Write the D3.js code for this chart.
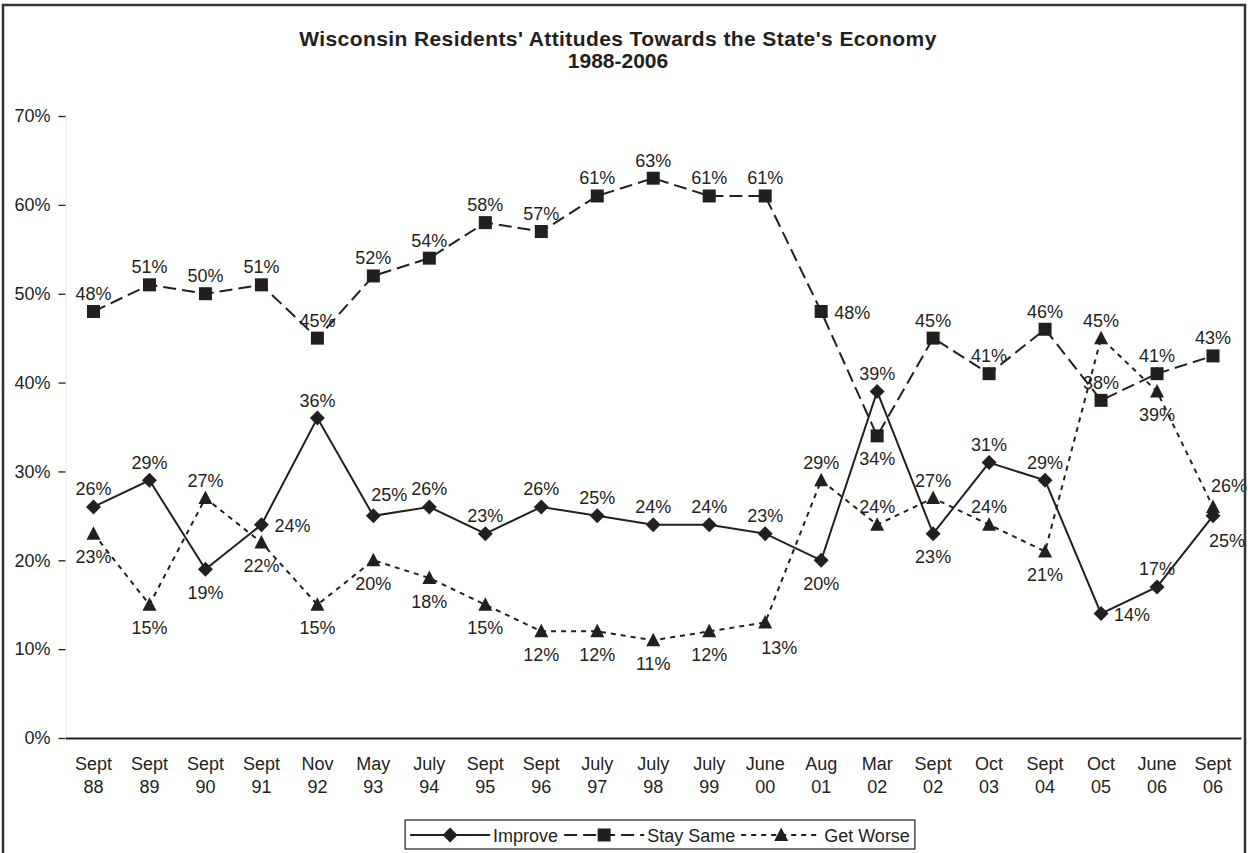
<!DOCTYPE html>
<html>
<head>
<meta charset="utf-8">
<script src="https://cdn.jsdelivr.net/npm/d3@7"></script>
<style>
  body { margin: 0; background: #fff; }
  text { font-family: "Liberation Sans", Arial, sans-serif; fill: #231f20; }
</style>
</head>
<body>
<div id="chart"></div>
<script>
// categories along the bottom
var categories = ["Sept 88", "Sept 89", "Sept 90", "Sept 91", "Nov 92", "May 93", "July 94",
  "Sept 95", "Sept 96", "July 97", "July 98", "July 99", "June 00", "Aug 01", "Mar 02",
  "Sept 02", "Oct 03", "Sept 04", "Oct 05", "June 06", "Sept 06"];

// percent values
var improve   = [26, 29, 19, 24, 36, 25, 26, 23, 26, 25, 24, 24, 23, 20, 39, 23, 31, 29, 14, 17, 25];
var staySame  = [48, 51, 50, 51, 45, 52, 54, 58, 57, 61, 63, 61, 61, 48, 34, 45, 41, 46, 38, 41, 43];
var getWorse  = [23, 15, 27, 22, 15, 20, 18, 15, 12, 12, 11, 12, 13, 29, 24, 27, 24, 21, 45, 39, 26];

// where each value label sits relative to its point (a=above, b=below, r=right, ar/br shifted right)
var improveLbl = ["a","a","b","r","a","ar","a","a","a","a","a","a","a","b","a","b","a","a","r","a","br"];
var stayLbl    = ["a","a","a","a","a","a","a","a","a","a","a","a","a","r","b","a","a","a","a","a","a"];
var worseLbl   = ["b","b","a","b","b","b","b","b","b","b","b","b","br","a","a","a","a","b","a","b","ar"];

var yTicks = [0, 10, 20, 30, 40, 50, 60, 70];

var title1 = "Wisconsin Residents' Attitudes Towards the State's Economy";
var title2 = "1988-2006";

var ink = "#231f20";
var W = 1248, H = 853;

var svg = d3.select("#chart").append("svg")
  .attr("width", W)
  .attr("height", H);

// plot area
var plotLeft = 65.5, plotRight = 1241, plotTop = 116, plotBottom = 738;

var x = d3.scaleBand()
  .domain(categories)
  .range([plotLeft, plotRight])
  .paddingInner(0)
  .paddingOuter(0);
var xc = function(c) { return x(c) + x.bandwidth() / 2; };

var y = d3.scaleLinear()
  .domain([0, 70])
  .range([plotBottom, plotTop]);

// title
svg.append("text")
  .attr("x", 618).attr("y", 46)
  .attr("text-anchor", "middle")
  .style("font-size", "21px").style("font-weight", "bold")
  .style("letter-spacing", "0.4px")
  .text(title1);
svg.append("text")
  .attr("x", 618).attr("y", 68)
  .attr("text-anchor", "middle")
  .style("font-size", "21px").style("font-weight", "bold")
  .text(title2);

// y axis
var yAxis = d3.axisLeft(y)
  .tickValues(yTicks)
  .tickSize(7)
  .tickPadding(8)
  .tickFormat(function(d) { return d + "%"; });

var yAxisG = svg.append("g")
  .attr("transform", "translate(" + plotLeft + ",0)")
  .call(yAxis);
yAxisG.select(".domain").attr("stroke", "#ececec");
yAxisG.selectAll(".tick line").attr("stroke", ink).attr("stroke-width", 1.3);
yAxisG.selectAll(".tick text")
  .style("font-size", "18px")
  .style("font-family", "Liberation Sans, Arial, sans-serif")
  .attr("fill", ink);

// x axis on the 0% line
var xAxis = d3.axisBottom(x).tickSize(0).tickSizeOuter(0).tickPadding(0);
var xAxisG = svg.append("g")
  .attr("transform", "translate(0," + plotBottom + ")")
  .call(xAxis);
xAxisG.select(".domain").attr("stroke", ink).attr("stroke-width", 1.8);
xAxisG.selectAll(".tick text").each(function(d) {
  var parts = d.split(" ");
  var t = d3.select(this).text(null)
    .style("font-size", "18px")
    .style("font-family", "Liberation Sans, Arial, sans-serif")
    .attr("fill", ink)
    .attr("y", 0).attr("dy", null);
  t.append("tspan").attr("x", 0).attr("y", 32).text(parts[0]);
  t.append("tspan").attr("x", 0).attr("y", 55).text(parts[1]);
});

// markers
function diamond(g) {
  g.append("path").attr("d", "M0,-7.5L7.5,0L0,7.5L-7.5,0Z").attr("fill", ink);
}
function square(g) {
  g.append("rect").attr("x", -6.5).attr("y", -6.5).attr("width", 13).attr("height", 13).attr("fill", ink);
}
function triangle(g) {
  g.append("path").attr("d", "M0,-7.5L7,6L-7,6Z").attr("fill", ink);
}

var series = [
  { name: "Improve",    values: improve,  labels: improveLbl, dash: null,  marker: diamond },
  { name: "Stay Same",  values: staySame, labels: stayLbl,    dash: "13,6", marker: square },
  { name: "Get Worse",  values: getWorse, labels: worseLbl,   dash: "5,5",  marker: triangle }
];

var line = d3.line()
  .x(function(d, i) { return xc(categories[i]); })
  .y(function(d) { return y(d); });

// lines first, then markers, then labels
series.forEach(function(s) {
  svg.append("path")
    .datum(s.values)
    .attr("fill", "none")
    .attr("stroke", ink)
    .attr("stroke-width", 2)
    .attr("stroke-dasharray", s.dash)
    .attr("d", line);
});

series.forEach(function(s) {
  s.values.forEach(function(v, i) {
    var g = svg.append("g")
      .attr("transform", "translate(" + xc(categories[i]) + "," + y(v) + ")");
    s.marker(g);
  });
});

var offsets = {
  a:  { dx: 0,  dy: -18, anchor: "middle" },
  b:  { dx: 0,  dy: 23,  anchor: "middle" },
  r:  { dx: 13, dy: 1,   anchor: "start" },
  ar: { dx: 16, dy: -21, anchor: "middle" },
  br: { dx: 14, dy: 25,  anchor: "middle" }
};

series.forEach(function(s) {
  s.values.forEach(function(v, i) {
    var o = offsets[s.labels[i]];
    svg.append("text")
      .attr("x", xc(categories[i]) + o.dx)
      .attr("y", y(v) + o.dy + 6.5)
      .attr("text-anchor", o.anchor)
      .style("font-size", "18px")
      .text(v + "%");
  });
});

// legend
var legendBox = svg.append("rect")
  .attr("fill", "#fff")
  .attr("stroke", ink).attr("stroke-width", 1.2);
var legend = svg.append("g");
var sampleW = 80, cx = 0;
series.forEach(function(s) {
  var g = legend.append("g").attr("transform", "translate(" + cx + ",0)");
  g.append("line")
    .attr("x1", 0).attr("x2", sampleW)
    .attr("y1", 0).attr("y2", 0)
    .attr("stroke", ink).attr("stroke-width", 2)
    .attr("stroke-dasharray", s.dash);
  var m = g.append("g").attr("transform", "translate(" + sampleW / 2 + ",0)");
  s.marker(m);
  var t = g.append("text")
    .attr("x", sampleW + 3).attr("y", 6.5)
    .style("font-size", "18px")
    .text(s.name);
  cx += sampleW + 3 + t.node().getComputedTextLength() + 6;
});
var legW = cx - 6 + 10;
var legX = 660 - legW / 2;
legend.attr("transform", "translate(" + (legX + 5) + ",835)");
legendBox
  .attr("x", legX).attr("y", 820)
  .attr("width", legW).attr("height", 29);

// outer frame
svg.append("rect")
  .attr("x", 3).attr("y", 5)
  .attr("width", W - 6).attr("height", H + 10)
  .attr("fill", "none")
  .attr("stroke", "#333").attr("stroke-width", 2.5);
</script>
</body>
</html>
